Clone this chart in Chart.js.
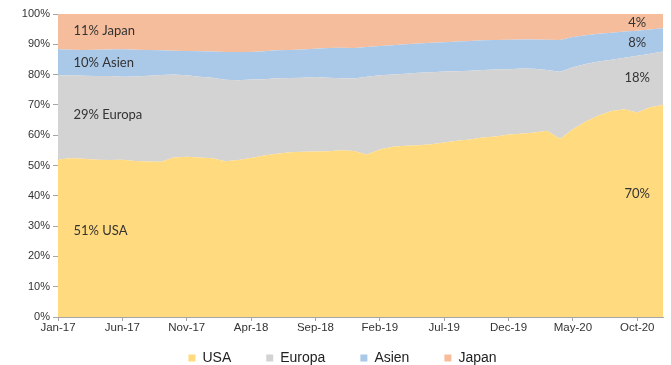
<!DOCTYPE html>
<html>
<head>
<meta charset="utf-8">
<script src="https://cdn.jsdelivr.net/npm/chart.js@4"></script>
<style>
  html, body { margin: 0; padding: 0; background: #ffffff; }
  #wrap { width: 671px; height: 365px; position: relative; }
</style>
</head>
<body>
<div id="wrap"><canvas id="c" width="671" height="365"></canvas></div>
<script>
// Monthly categories Jan-17 .. Dec-20
const months = ["Jan","Feb","Mar","Apr","May","Jun","Jul","Aug","Sep","Oct","Nov","Dec"];
const categories = [];
for (let yr = 17; yr <= 20; yr++) for (const m of months) categories.push(m + "-" + yr);

// Shares in %
const usa = [52.0,52.4,52.2,51.9,51.8,51.9,51.5,51.3,51.2,52.6,52.9,52.6,
             52.4,51.4,51.8,52.5,53.3,53.9,54.4,54.5,54.6,54.7,55.0,54.8,
             53.6,55.3,56.2,56.5,56.7,57.0,57.6,58.2,58.6,59.2,59.6,60.2,
             60.5,60.9,61.5,58.8,62.0,64.5,66.5,68.0,68.6,67.5,69.2,70.0];
const europa = [27.8,27.4,27.4,27.6,27.7,27.4,27.9,28.3,28.7,27.4,26.9,26.7,
                26.6,26.9,26.3,25.9,25.2,24.9,24.5,24.5,24.6,24.3,23.8,23.9,
                25.7,24.5,23.8,23.8,23.9,23.8,23.4,22.9,22.7,22.3,22.1,21.6,
                21.5,21.0,20.0,22.1,20.4,19.0,17.8,16.9,17.0,18.7,17.7,17.6];
const asien = [8.6,8.4,8.5,8.7,8.8,9.1,8.8,8.5,8.1,7.9,8.0,8.4,
               8.6,9.2,9.4,9.1,9.2,9.2,9.2,9.3,9.3,9.8,10.1,10.1,
               9.8,9.6,9.7,9.7,9.7,9.7,9.7,9.8,9.8,9.8,9.7,9.7,
               9.6,9.7,10.0,10.5,10.0,9.5,9.2,8.9,8.6,8.3,8.0,7.7];
const japan = [11.6,11.8,11.9,11.8,11.7,11.6,11.8,11.9,12.0,12.1,12.2,12.3,
               12.4,12.5,12.5,12.5,12.3,12.0,11.9,11.7,11.5,11.2,11.1,11.2,
               10.9,10.6,10.3,10.0,9.7,9.5,9.3,9.1,8.9,8.7,8.6,8.5,
               8.4,8.4,8.5,8.6,7.6,7.0,6.5,6.2,5.8,5.5,5.1,4.7];

const seriesNames = ["USA","Europa","Asien","Japan"];
const tickLabelsX = ["Jan-17","Jun-17","Nov-17","Apr-18","Sep-18","Feb-19","Jul-19","Dec-19","May-20","Oct-20"];

// Text labels inside the chart
const labelTexts = ["11% Japan","10% Asien","29% Europa","51% USA","4%","8%","18%","70%"];
const labelIdx   = [1.2, 1.2, 1.2, 1.2, 45, 45, 45, 45];
const labelVal   = [94.4, 83.8, 66.6, 28.5, 97.0, 90.4, 79.1, 40.7];
const labelAlign = ["left","left","left","left","center","center","center","center"];

const colors = ["#FFDA7E","#D3D3D3","#AAC8E8","#F5BD9B"];

const textPlugin = {
  id: "areaText",
  afterDatasetsDraw(chart) {
    const ctx = chart.ctx, xs = chart.scales.x, ys = chart.scales.y;
    ctx.save();
    ctx.font = "13px Lato, 'Open Sans', sans-serif";
    ctx.fillStyle = "#333333";
    ctx.textBaseline = "middle";
    for (let i = 0; i < labelTexts.length; i++) {
      ctx.textAlign = labelAlign[i];
      ctx.fillText(labelTexts[i], xs.getPixelForValue(labelIdx[i]), ys.getPixelForValue(labelVal[i]));
    }
    ctx.restore();
  }
};

// Move the legend row up next to the x axis labels (its label padding is large for horizontal spacing)
const legendPlace = {
  id: "legendPlace",
  afterLayout(chart) {
    const lg = chart.legend;
    if (!lg) return;
    const h = lg.bottom - lg.top;
    lg.top = chart.scales.x.top - 1;
    lg.bottom = lg.top + h;
    lg.left += 11;
    lg.right += 11;
  }
};

const dataSets = [usa, europa, asien, japan].map((d, i) => ({
  label: seriesNames[i],
  data: d,
  backgroundColor: colors[i],
  borderColor: colors[i],
  borderWidth: 0,
  pointRadius: 0,
  fill: i === 0 ? "origin" : "-1",
  tension: 0
}));

new Chart(document.getElementById("c"), {
  type: "line",
  data: { labels: categories, datasets: dataSets },
  plugins: [textPlugin, legendPlace],
  options: {
    responsive: false,
    animation: false,
    layout: { padding: { top: 14, right: 8, left: 0, bottom: -37 } },
    plugins: {
      tooltip: { enabled: false },
      legend: {
        position: "bottom",
        labels: {
          boxWidth: 7, boxHeight: 7, padding: 35,
          color: "#222222",
          font: { family: "'Liberation Sans', Arial, sans-serif", size: 14 }
        }
      }
    },
    scales: {
      x: {
        offset: false,
        grid: { display: true, drawOnChartArea: false, drawTicks: true, tickLength: 4, color: "#a6a6a6" },
        border: { display: true, color: "#a6a6a6" },
        ticks: {
          autoSkip: false, maxRotation: 0, padding: 0,
          color: "#333333",
          font: { family: "'Liberation Sans', Arial, sans-serif", size: 11.5 },
          callback: function(v, i) { return i % 5 === 0 ? categories[i] : null; }
        },
        afterFit: function(s) { s.height = 26; }
      },
      y: {
        stacked: true, min: 0, max: 100,
        grid: { display: true, drawOnChartArea: false, drawTicks: true, tickLength: 5, color: "#a6a6a6" },
        border: { display: true, color: "#a6a6a6" },
        ticks: {
          stepSize: 10, padding: 3,
          color: "#333333",
          font: { family: "'Liberation Sans', Arial, sans-serif", size: 11 },
          callback: v => v + "%"
        },
        afterFit: function(s) { s.width = 58; }
      }
    }
  }
});
</script>
</body>
</html>
